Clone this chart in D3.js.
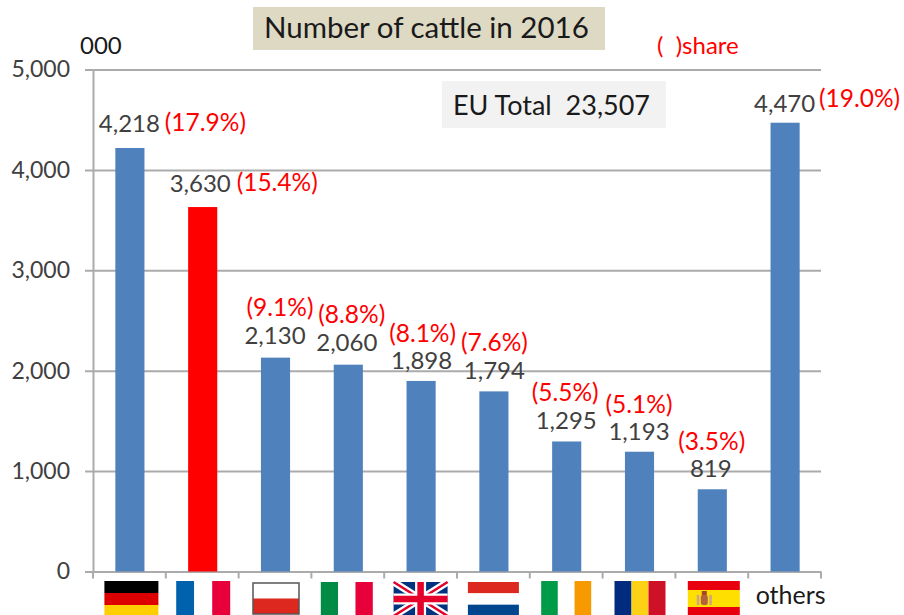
<!DOCTYPE html>
<html>
<head>
<meta charset="utf-8">
<script src="https://d3js.org/d3.v7.min.js"></script>
<style>
  html, body { margin: 0; padding: 0; background: #fff; }
  text { font-family: Lato, "Open Sans", sans-serif; }
</style>
</head>
<body>
<div id="chart"></div>
<script>
// Data
const countries = ["Germany", "France", "Poland", "Italy", "UK", "Netherlands", "Ireland", "Romania", "Spain", "others"];
const cattle = [4218, 3630, 2130, 2060, 1898, 1794, 1295, 1193, 819, 4470];
const shares = ["(17.9%)", "(15.4%)", "(9.1%)", "(8.8%)", "(8.1%)", "(7.6%)", "(5.5%)", "(5.1%)", "(3.5%)", "(19.0%)"];
const yTicks = [0, 1000, 2000, 3000, 4000, 5000];
const chartTitle = "Number of cattle in 2016";
const totalLabel = "EU Total  23,507";

// label nudges from the bar centre / bar top, picked by eye
const valueNudge = [[0, -24], [-2, -23], [0, -22], [-1, -22], [1, -20], [1, -21], [0, -21], [0, -20], [-1, -21], [0, -19]];
const shareNudge = [[76, -26], [75, -25], [5, -50], [4, -50], [2, -48], [1, -49], [-1, -49], [0, -47], [0, -48], [75, -24]];
// flags are not quite centred under the bars in the original
const flagNudge = [2, 1, 1, -1, 0, 0, 0, 1, 2];

const width = 904;
const height = 615;
const margin = { left: 93, right: 83, top: 69.5, bottom: 43.5 };

const svg = d3.select("#chart")
  .append("svg")
  .attr("width", width)
  .attr("height", height)
  .style("display", "block");

const x = d3.scaleBand()
  .domain(countries)
  .range([margin.left, width - margin.right])
  .paddingInner(0.6)
  .paddingOuter(0.3);

const y = d3.scaleLinear()
  .domain([0, 5000])
  .range([height - margin.bottom, margin.top]);

const gridColor = "#ababab";

// y axis with gridlines running through the ticks
const yAxis = svg.append("g")
  .attr("transform", `translate(${margin.left},0)`)
  .call(d3.axisLeft(y)
    .tickValues(yTicks)
    .tickFormat(d3.format(","))
    .tickSize(8)
    .tickPadding(15));
yAxis.select(".domain").attr("stroke", gridColor).attr("stroke-width", 2);
yAxis.selectAll(".tick line")
  .attr("x1", -8)
  .attr("x2", width - margin.right - margin.left)
  .attr("stroke", gridColor)
  .attr("stroke-width", 2);
yAxis.selectAll(".tick text")
  .attr("font-size", 23)
  .attr("fill", "#404040")
  .style("font-family", "Lato, 'Open Sans', sans-serif");

// small ticks between the categories
const tickX = countries.map((c) => x(c) - x.step() * x.paddingInner() / 2).concat(width - margin.right);
svg.append("g")
  .selectAll("line")
  .data(tickX)
  .enter()
  .append("line")
  .attr("x1", (d) => d)
  .attr("x2", (d) => d)
  .attr("y1", y(0))
  .attr("y2", y(0) + 7)
  .attr("stroke", gridColor)
  .attr("stroke-width", 2);

// bars
svg.append("g")
  .selectAll("rect")
  .data(countries)
  .enter()
  .append("rect")
  .attr("x", (d) => x(d) + 0.5)
  .attr("width", x.bandwidth())
  .attr("y", (d, i) => y(cattle[i]))
  .attr("height", (d, i) => y(0) - y(cattle[i]))
  .attr("fill", (d) => d === "France" ? "#ff0000" : "#4f81bd");

const cx = (i) => x(countries[i]) + x.bandwidth() / 2;

// value labels
svg.append("g")
  .selectAll("text")
  .data(cattle)
  .enter()
  .append("text")
  .attr("x", (d, i) => cx(i) + valueNudge[i][0])
  .attr("y", (d, i) => y(d) + valueNudge[i][1])
  .attr("dy", "0.35em")
  .attr("text-anchor", "middle")
  .attr("font-size", 24)
  .attr("fill", "#404040")
  .text(d3.format(","));

// share labels
svg.append("g")
  .selectAll("text")
  .data(shares)
  .enter()
  .append("text")
  .attr("x", (d, i) => cx(i) + shareNudge[i][0])
  .attr("y", (d, i) => y(cattle[i]) + shareNudge[i][1])
  .attr("dy", "0.35em")
  .attr("text-anchor", "middle")
  .attr("font-size", 24.5)
  .attr("fill", "#ff0000")
  .text((d) => d);

// title box
svg.append("rect").attr("x", 253).attr("y", 7).attr("width", 352).attr("height", 43).attr("fill", "#ddd9c3");
svg.append("text").attr("x", 264).attr("y", 38).attr("font-size", 29.5).attr("fill", "#1a1a1a").text(chartTitle);

// total box
svg.append("rect").attr("x", 442).attr("y", 81).attr("width", 224).attr("height", 47).attr("fill", "#f2f2f2");
svg.append("text").attr("x", 453).attr("y", 115).attr("font-size", 27).attr("fill", "#1a1a1a").style("white-space", "pre").text(totalLabel);

// unit and legend notes
svg.append("text").attr("x", 80).attr("y", 54).attr("font-size", 24).attr("fill", "#1a1a1a").text("000");
svg.append("text").attr("x", 657).attr("y", 54).attr("font-size", 24).attr("fill", "#ff0000").style("white-space", "pre").text("(  )share");

// "others" sits where a flag would be
svg.append("text")
  .attr("x", cx(9) + 6)
  .attr("y", 604)
  .attr("text-anchor", "middle")
  .attr("font-size", 25)
  .attr("fill", "#1a1a1a")
  .text("others");

// flags
function flagGroup(i, w, top) {
  return svg.append("g").attr("transform", `translate(${cx(i) + flagNudge[i] - w / 2},${top})`);
}
function hStripes(g, w, h, colors) {
  colors.forEach((c, k) => {
    g.append("rect").attr("x", 0).attr("y", k * h / colors.length).attr("width", w).attr("height", h / colors.length).attr("fill", c);
  });
}
function vStripes(g, w, h, colors) {
  colors.forEach((c, k) => {
    g.append("rect").attr("x", k * w / colors.length).attr("y", 0).attr("width", w / colors.length).attr("height", h).attr("fill", c);
  });
}

hStripes(flagGroup(0, 54, 581), 54, 36, ["#000000", "#dd0000", "#ffce00"]);
vStripes(flagGroup(1, 54, 581), 54, 36, ["#0061ad", "#ffffff", "#e8003a"]);

const poland = flagGroup(2, 46, 583);
hStripes(poland, 46, 31, ["#ffffff", "#dc281e"]);
poland.append("rect").attr("width", 46).attr("height", 31).attr("fill", "none").attr("stroke", "#555").attr("stroke-width", 1.5);

vStripes(flagGroup(3, 52, 582), 52, 34, ["#008c45", "#ffffff", "#e8003a"]);

const uk = flagGroup(4, 54, 582);
uk.append("rect").attr("width", 54).attr("height", 34).attr("fill", "#00337f");
uk.append("path").attr("d", "M0,0L54,34M54,0L0,34").attr("stroke", "#fff").attr("stroke-width", 7);
uk.append("path").attr("d", "M0,0L54,34M54,0L0,34").attr("stroke", "#e4002b").attr("stroke-width", 2.5);
uk.append("path").attr("d", "M27,0V34M0,17H54").attr("stroke", "#fff").attr("stroke-width", 11);
uk.append("path").attr("d", "M27,0V34M0,17H54").attr("stroke", "#e4002b").attr("stroke-width", 6.5);

hStripes(flagGroup(5, 51, 582), 51, 34, ["#dc281e", "#ffffff", "#00468e"]);
vStripes(flagGroup(6, 50, 581), 50, 34, ["#009b48", "#ffffff", "#f79a00"]);
vStripes(flagGroup(7, 51, 581), 51, 34, ["#002b7f", "#fcd116", "#ce1126"]);

// Spain, with a rough little coat of arms
const spain = flagGroup(8, 52, 581);
spain.append("rect").attr("width", 52).attr("height", 9).attr("fill", "#e8000f");
spain.append("rect").attr("y", 9).attr("width", 52).attr("height", 17).attr("fill", "#ffdf00");
spain.append("rect").attr("y", 26).attr("width", 52).attr("height", 9).attr("fill", "#e8000f");
spain.append("rect").attr("x", 13).attr("y", 14).attr("width", 7).attr("height", 10).attr("rx", 2).attr("fill", "#b5613c");
spain.append("rect").attr("x", 14).attr("y", 10).attr("width", 5).attr("height", 4).attr("fill", "#a8452b");
spain.append("rect").attr("x", 9).attr("y", 14).attr("width", 2.5).attr("height", 10).attr("fill", "#c9a38a");
spain.append("rect").attr("x", 21.5).attr("y", 14).attr("width", 2.5).attr("height", 10).attr("fill", "#c9a38a");
</script>
</body>
</html>
